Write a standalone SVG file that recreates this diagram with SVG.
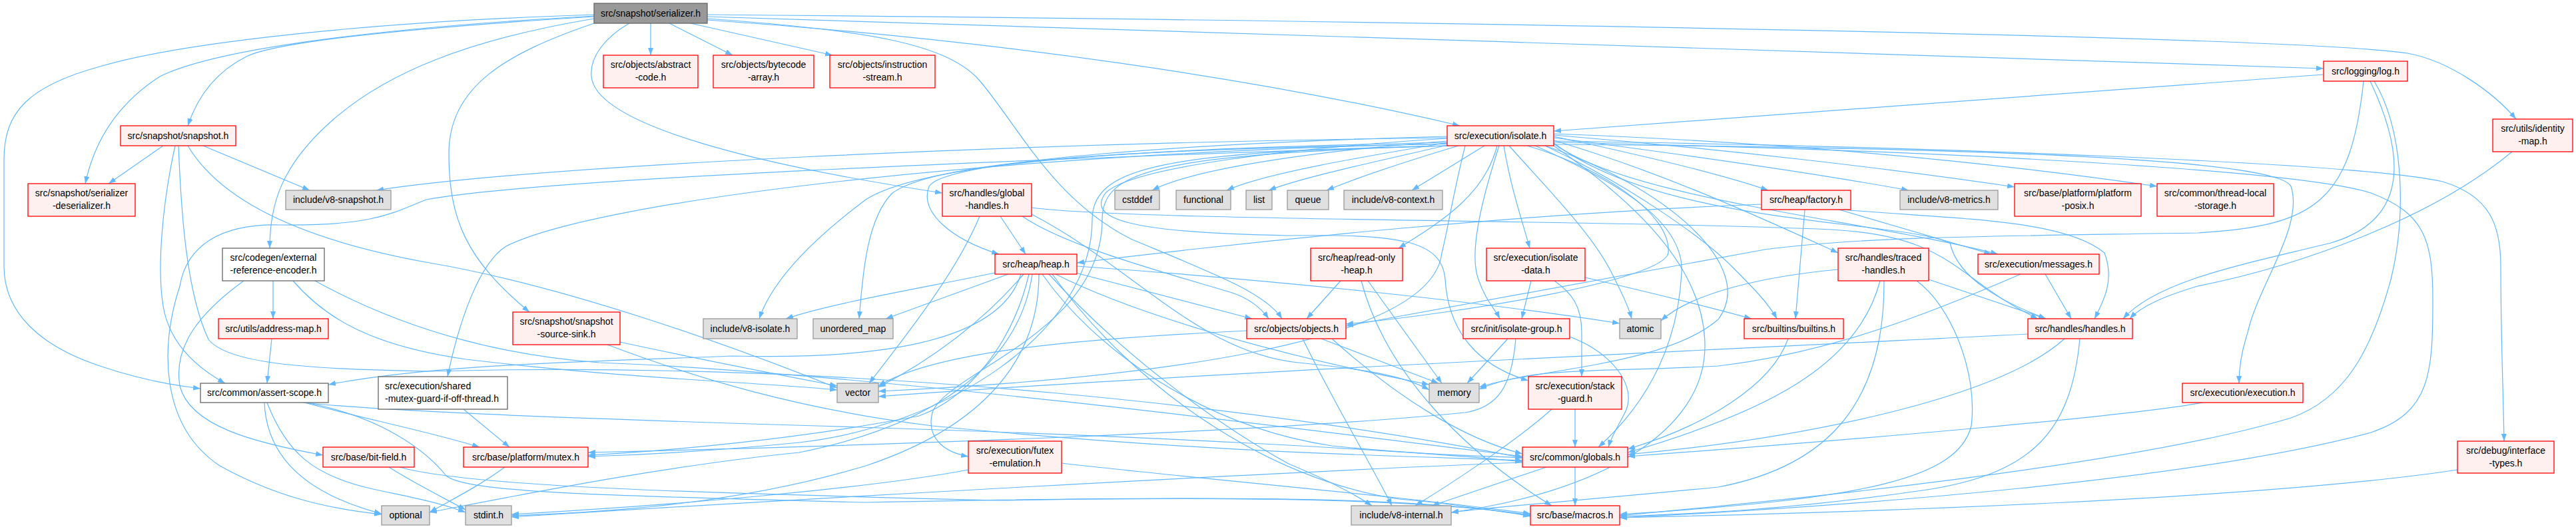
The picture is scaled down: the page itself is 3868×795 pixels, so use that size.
<svg xmlns="http://www.w3.org/2000/svg" width="3868" height="795" viewBox="0 0 3868 795">
<style>
#edges path{fill:none;stroke:#63b8ff;stroke-width:1.2;marker-end:url(#a)}
.r rect{fill:#fff0f0;stroke:#ff0000;stroke-width:1.3}
.g rect{fill:#e0e0e0;stroke:#999999;stroke-width:1.3}
.w rect{fill:#ffffff;stroke:#666666;stroke-width:1.3}
.root rect{fill:#999999;stroke:#666666;stroke-width:1.3}
text{font-family:"Liberation Sans",Arial,Helvetica,sans-serif;font-size:14px;fill:#000;text-anchor:middle}
text.l{text-anchor:start}
</style>
<defs>
<marker id="a" markerUnits="userSpaceOnUse" markerWidth="12" markerHeight="9" refX="11" refY="4" orient="auto"><path d="M0,0 L11,4 L0,8 z" fill="#63b8ff"/></marker>
</defs>
<rect width="3868" height="795" fill="#ffffff"/>
<g id="edges">
<path d="M977,35 L977,83"/>
<path d="M1005,35 L1100,83"/>
<path d="M1037,35 L1250,83"/>
<path d="M1062,25 C1600,40 3000,88 3489,103"/>
<path d="M1062,22 C2200,32 3450,55 3615,80 C3680,92 3745,140 3778,179"/>
<path d="M1062,30 C1500,60 1900,120 2192,189"/>
<path d="M1062,28 C1300,45 1420,65 1470,120 C1530,190 1580,300 1700,360 C1820,410 1900,440 1925,479"/>
<path d="M945,35 C910,55 885,85 888,115 C895,190 1150,250 1415,290"/>
<path d="M892,35 C760,80 674,130 674,230 C674,330 700,390 795,469"/>
<path d="M892,28 C700,60 580,110 500,180 C420,250 405,310 405,373"/>
<path d="M892,25 C650,40 420,60 370,85 C320,110 295,150 282,189"/>
<path d="M892,24 C600,40 330,70 240,115 C170,160 140,220 128,276"/>
<path d="M892,22 C500,35 250,70 150,100 C40,130 6,170 6,240 L6,400 C6,470 60,520 150,550 C200,567 250,578 301,584"/>
<path d="M3489,112 L2333,197"/>
<path d="M3549,122 C3530,300 3480,340 3300,350 C3000,355 2800,355 2650,375 C2400,420 2150,465 2021,490"/>
<path d="M3559,122 C3610,230 3620,330 3500,365 C3380,395 3240,420 3188,479"/>
<path d="M3565,122 C3612,200 3612,330 3590,420 C3560,530 3520,600 3440,628 C3200,700 2700,750 2432,775"/>
<path d="M245,219 L163,276"/>
<path d="M305,219 L465,286"/>
<path d="M263,219 C245,300 235,400 245,460 C255,520 300,555 338,576"/>
<path d="M282,219 C330,300 450,360 645,395 C850,430 1100,520 1257,583"/>
<path d="M268,219 C272,320 280,440 313,510 C340,545 450,555 645,558 C1300,540 1950,620 2286,688"/>
<path d="M2173,207 C1500,215 800,250 565,286"/>
<path d="M2173,212 C2000,225 1800,250 1730,286"/>
<path d="M2175,214 C2050,235 1900,260 1842,286"/>
<path d="M2178,217 C2080,240 1960,265 1905,286"/>
<path d="M2190,219 C2120,240 2050,262 1992,286"/>
<path d="M2229,219 L2120,286"/>
<path d="M2248,219 C2230,290 2170,330 2100,373"/>
<path d="M2258,219 C2268,280 2285,330 2297,373"/>
<path d="M2251,219 C2225,300 2205,380 2220,420 C2230,450 2245,465 2252,479"/>
<path d="M2266,219 C2320,280 2390,350 2420,410 C2435,440 2445,460 2450,479"/>
<path d="M2173,208 C1950,222 1700,250 1660,290 C1630,330 1700,350 1935,354 C2100,352 2165,360 2170,420 C2175,500 2220,550 2295,572"/>
<path d="M2333,205 C2450,230 2580,260 2655,286"/>
<path d="M2333,207 C2550,235 2750,265 2866,286"/>
<path d="M2333,203 C2600,225 2850,255 3025,281"/>
<path d="M2333,201 C2700,215 3000,245 3239,280"/>
<path d="M2333,211 C2500,260 2650,330 2760,380"/>
<path d="M2333,216 C2450,300 2800,330 3000,382"/>
<path d="M2173,205 C1800,215 1420,240 1395,280 C1380,320 1430,360 1500,382"/>
<path d="M2173,214 C1800,222 1400,235 1300,300 C1220,360 1160,420 1140,479"/>
<path d="M2175,216 C1800,224 1420,232 1340,290 C1300,330 1295,420 1290,479"/>
<path d="M2293,219 C2400,250 2510,320 2505,380 C2500,420 2200,470 2021,487"/>
<path d="M2320,219 C2450,280 2560,360 2600,400 C2630,430 2655,455 2668,479"/>
<path d="M2333,215 C2500,340 2850,330 2928,365 C2940,420 3010,455 3072,479"/>
<path d="M2173,216 C1500,230 900,300 760,370 C720,395 690,480 672,566"/>
<path d="M2200,219 C2180,300 2175,340 2165,380 C2150,520 1700,570 1319,588"/>
<path d="M2320,219 C2500,280 2640,400 2580,480 C2500,550 2300,555 2221,582"/>
<path d="M2333,217 C3000,222 3420,240 3440,280 C3460,340 3390,430 3375,500 C3365,530 3362,555 3362,576"/>
<path d="M2173,219 C1750,228 1640,250 1640,330 C1640,500 1420,640 1200,665 C1050,680 950,684 883,686"/>
<path d="M2176,219 C1730,232 1655,258 1655,330 C1655,500 1420,560 1400,620 C1390,660 1420,680 1454,686"/>
<path d="M2305,219 C2420,270 2530,330 2525,410 C2520,510 2480,600 2400,672"/>
<path d="M2333,212 C2900,220 3550,245 3668,273 C3740,295 3755,340 3755,400 C3755,500 3759,600 3760,663"/>
<path d="M2173,219 C1500,240 800,270 640,300 C590,320 560,340 420,338 C330,336 280,370 270,430 C240,520 240,640 330,700 C420,750 500,765 573,773"/>
<path d="M2333,219 C2450,300 2560,400 2560,520 C2560,650 2400,740 2179,770"/>
<path d="M2333,214 C2900,225 3450,255 3560,290 C3640,320 3653,360 3653,450 C3653,560 3650,620 3560,650 C3300,720 2800,760 2432,778"/>
<path d="M1494,410 C1400,430 1250,455 1180,479"/>
<path d="M1514,412 L1330,479"/>
<path d="M1533,412 C1500,520 1300,540 1100,535 C850,545 650,548 493,578"/>
<path d="M1537,412 C1480,480 1400,540 1319,582"/>
<path d="M1545,412 C1520,520 1450,600 1380,625 C1200,660 1000,678 883,684"/>
<path d="M1550,412 C1530,550 1400,640 1200,680 C1000,700 800,740 645,770"/>
<path d="M1560,412 C1560,560 1450,650 1300,700 C1100,760 900,770 768,775"/>
<path d="M1615,410 L1880,479"/>
<path d="M1617,400 C1900,420 2200,450 2432,486"/>
<path d="M1585,412 C1700,470 1900,530 2146,578"/>
<path d="M1565,412 C1640,520 1800,640 2000,670 C2150,685 2230,685 2286,688"/>
<path d="M1575,412 C1700,550 1850,650 1935,697 C1990,720 2030,740 2060,760"/>
<path d="M1580,412 C1700,580 1900,720 2100,750 C2200,758 2250,770 2298,774"/>
<path d="M1502,325 L1540,382"/>
<path d="M1471,325 C1440,400 1380,480 1305,576"/>
<path d="M1535,325 C1600,370 1750,410 1850,440 C1880,450 1895,465 1905,479"/>
<path d="M1549,312 C1700,332 2400,330 2750,345 C2935,355 2935,420 3060,479"/>
<path d="M1549,322 C1700,400 1800,530 1950,545 C2050,555 2110,565 2146,586"/>
<path d="M410,422 L410,479"/>
<path d="M366,422 C300,470 260,520 270,580 C285,640 380,665 485,684"/>
<path d="M440,422 C490,480 560,520 700,540 C950,570 1150,575 1257,586"/>
<path d="M473,422 C560,470 700,530 900,545 C1300,560 2000,650 2286,686"/>
<path d="M408,509 L401,576"/>
<path d="M931,514 C1050,540 1180,565 1257,580"/>
<path d="M912,518 C1050,570 1200,615 1400,640 C1800,680 2100,685 2286,692"/>
<path d="M397,605 C400,680 450,740 573,772"/>
<path d="M401,605 C430,680 470,715 560,735 C620,748 660,755 699,770"/>
<path d="M457,605 C550,630 650,650 720,672"/>
<path d="M455,605 C600,620 900,630 1290,642 C1700,655 2100,675 2286,694"/>
<path d="M460,605 C590,630 650,690 670,715 C700,740 900,745 1300,755 C1800,745 2150,745 2298,776"/>
<path d="M696,615 L765,672"/>
<path d="M584,702 C620,725 660,745 699,766"/>
<path d="M600,702 C700,730 1000,740 1500,752 C1900,745 2150,752 2298,774"/>
<path d="M758,702 C720,730 680,750 645,770"/>
<path d="M1454,706 C1300,735 1000,760 768,773"/>
<path d="M1594,696 C1800,720 2100,745 2298,772"/>
<path d="M2365,702 L2365,760"/>
<path d="M2322,702 L2150,760"/>
<path d="M2286,695 C1900,710 1200,750 768,777"/>
<path d="M2365,615 L2365,672"/>
<path d="M2330,615 C2280,660 2190,720 2125,760"/>
<path d="M2264,509 L2203,576"/>
<path d="M2357,506 C2420,530 2460,580 2440,620 C2430,640 2420,655 2415,672"/>
<path d="M2276,509 C2270,580 2250,612 2200,620 C1900,650 1300,670 883,680"/>
<path d="M2299,422 L2285,479"/>
<path d="M2334,422 C2360,440 2375,460 2375,500 L2375,566"/>
<path d="M2380,417 C2480,440 2560,460 2630,479"/>
<path d="M2013,422 L1962,479"/>
<path d="M2054,422 L2165,576"/>
<path d="M2044,422 C2080,560 2200,680 2330,760"/>
<path d="M1956,509 C2000,600 2060,700 2090,760"/>
<path d="M1984,509 L2160,576"/>
<path d="M1872,497 C1600,510 1400,530 1319,580"/>
<path d="M2000,509 C2100,600 2200,660 2286,682"/>
<path d="M2685,509 C2660,580 2560,640 2444,675"/>
<path d="M3045,502 C2500,530 1800,560 1319,596"/>
<path d="M3100,509 C3000,600 2700,660 2444,683"/>
<path d="M3123,509 C3110,650 3050,710 2900,735 C2700,765 2550,772 2432,776"/>
<path d="M2896,420 L3072,479"/>
<path d="M2760,405 C2650,415 2540,440 2494,482"/>
<path d="M2823,422 C2790,550 2650,620 2444,680"/>
<path d="M2829,422 C2830,600 2750,700 2580,732 C2400,750 2260,760 2179,770"/>
<path d="M2878,422 C2930,460 2970,560 2960,640 C2940,720 2800,750 2432,773"/>
<path d="M3071,412 L3110,479"/>
<path d="M3034,412 C2900,470 2750,530 2580,550 C2400,560 2300,550 2221,585"/>
<path d="M2645,307 C2300,320 1900,360 1617,395"/>
<path d="M2761,315 L2990,382"/>
<path d="M2710,315 L2696,479"/>
<path d="M2765,315 C2950,330 3100,330 3160,380 C3175,420 3160,450 3145,479"/>
<path d="M3772,228 C3650,330 3450,400 3300,430 C3250,445 3215,460 3198,479"/>
<path d="M3690,706 C3400,750 2800,770 2432,778"/>
<path d="M3307,605 C3200,625 2800,660 2444,686"/>
</g>
<g id="n0" class="root"><rect x="892" y="5" width="170" height="30"/><text x="977" y="25">src/snapshot/serializer.h</text></g>
<g id="n1" class="r"><rect x="906" y="83" width="142" height="49"/><text x="977" y="102">src/objects/abstract</text><text x="977" y="121">-code.h</text></g>
<g id="n2" class="r"><rect x="1071" y="83" width="151" height="49"/><text x="1146.5" y="102">src/objects/bytecode</text><text x="1146.5" y="121">-array.h</text></g>
<g id="n3" class="r"><rect x="1246" y="83" width="158" height="49"/><text x="1325" y="102">src/objects/instruction</text><text x="1325" y="121">-stream.h</text></g>
<g id="n4" class="r"><rect x="3489" y="92" width="126" height="30"/><text x="3552" y="112">src/logging/log.h</text></g>
<g id="n5" class="r"><rect x="181" y="189" width="173" height="30"/><text x="267.5" y="209">src/snapshot/snapshot.h</text></g>
<g id="n6" class="r"><rect x="2173" y="189" width="160" height="30"/><text x="2253" y="209">src/execution/isolate.h</text></g>
<g id="n7" class="r"><rect x="3743" y="179" width="120" height="49"/><text x="3803" y="198">src/utils/identity</text><text x="3803" y="217">-map.h</text></g>
<g id="n8" class="r"><rect x="42" y="276" width="161" height="49"/><text x="122.5" y="295">src/snapshot/serializer</text><text x="122.5" y="314">-deserializer.h</text></g>
<g id="n9" class="g"><rect x="429" y="286" width="158" height="29"/><text x="508" y="305">include/v8-snapshot.h</text></g>
<g id="n10" class="r"><rect x="1415" y="276" width="134" height="49"/><text x="1482" y="295">src/handles/global</text><text x="1482" y="314">-handles.h</text></g>
<g id="n11" class="g"><rect x="1674" y="286" width="67" height="29"/><text x="1707.5" y="305">cstddef</text></g>
<g id="n12" class="g"><rect x="1766" y="286" width="82" height="29"/><text x="1807" y="305">functional</text></g>
<g id="n13" class="g"><rect x="1871" y="286" width="39" height="29"/><text x="1890.5" y="305">list</text></g>
<g id="n14" class="g"><rect x="1933" y="286" width="62" height="29"/><text x="1964" y="305">queue</text></g>
<g id="n15" class="g"><rect x="2018" y="286" width="148" height="29"/><text x="2092" y="305">include/v8-context.h</text></g>
<g id="n16" class="r"><rect x="2645" y="286" width="134" height="29"/><text x="2712" y="305">src/heap/factory.h</text></g>
<g id="n17" class="g"><rect x="2853" y="286" width="147" height="29"/><text x="2926.5" y="305">include/v8-metrics.h</text></g>
<g id="n18" class="r"><rect x="3025" y="276" width="190" height="49"/><text x="3120" y="295">src/base/platform/platform</text><text x="3120" y="314">-posix.h</text></g>
<g id="n19" class="r"><rect x="3239" y="276" width="175" height="49"/><text x="3326.5" y="295">src/common/thread-local</text><text x="3326.5" y="314">-storage.h</text></g>
<g id="n20" class="w"><rect x="334" y="373" width="153" height="49"/><text x="410.5" y="392">src/codegen/external</text><text x="410.5" y="411">-reference-encoder.h</text></g>
<g id="n21" class="r"><rect x="1968" y="373" width="138" height="49"/><text x="2037" y="392">src/heap/read-only</text><text x="2037" y="411">-heap.h</text></g>
<g id="n22" class="r"><rect x="2232" y="373" width="148" height="49"/><text x="2306" y="392">src/execution/isolate</text><text x="2306" y="411">-data.h</text></g>
<g id="n23" class="r"><rect x="2760" y="373" width="136" height="49"/><text x="2828" y="392">src/handles/traced</text><text x="2828" y="411">-handles.h</text></g>
<g id="n24" class="r"><rect x="2970" y="382" width="182" height="30"/><text x="3061" y="402">src/execution/messages.h</text></g>
<g id="n25" class="r"><rect x="1494" y="382" width="123" height="30"/><text x="1555.5" y="402">src/heap/heap.h</text></g>
<g id="n26" class="r"><rect x="328" y="479" width="165" height="30"/><text x="410.5" y="499">src/utils/address-map.h</text></g>
<g id="n27" class="r"><rect x="770" y="469" width="161" height="49"/><text x="850.5" y="488">src/snapshot/snapshot</text><text x="850.5" y="507">-source-sink.h</text></g>
<g id="n28" class="g"><rect x="1056" y="479" width="141" height="30"/><text x="1126.5" y="499">include/v8-isolate.h</text></g>
<g id="n29" class="g"><rect x="1221" y="479" width="120" height="30"/><text x="1281" y="499">unordered_map</text></g>
<g id="n30" class="r"><rect x="1872" y="479" width="149" height="30"/><text x="1946.5" y="499">src/objects/objects.h</text></g>
<g id="n31" class="r"><rect x="2197" y="479" width="160" height="30"/><text x="2277" y="499">src/init/isolate-group.h</text></g>
<g id="n32" class="g"><rect x="2432" y="479" width="62" height="30"/><text x="2463" y="499">atomic</text></g>
<g id="n33" class="r"><rect x="2619" y="479" width="149" height="30"/><text x="2693.5" y="499">src/builtins/builtins.h</text></g>
<g id="n34" class="r"><rect x="3045" y="479" width="157" height="30"/><text x="3123.5" y="499">src/handles/handles.h</text></g>
<g id="n35" class="w"><rect x="301" y="576" width="192" height="29"/><text x="397" y="595">src/common/assert-scope.h</text></g>
<g id="n36" class="w"><rect x="568" y="566" width="194" height="49"/><text class="l" x="578" y="585">src/execution/shared</text><text class="l" x="578" y="604">-mutex-guard-if-off-thread.h</text></g>
<g id="n37" class="g"><rect x="1257" y="576" width="62" height="29"/><text x="1288" y="595">vector</text></g>
<g id="n38" class="g"><rect x="2146" y="576" width="75" height="29"/><text x="2183.5" y="595">memory</text></g>
<g id="n39" class="r"><rect x="2295" y="566" width="140" height="49"/><text x="2365" y="585">src/execution/stack</text><text x="2365" y="604">-guard.h</text></g>
<g id="n40" class="r"><rect x="3277" y="576" width="181" height="29"/><text x="3367.5" y="595">src/execution/execution.h</text></g>
<g id="n41" class="r"><rect x="485" y="672" width="137" height="30"/><text x="553.5" y="692">src/base/bit-field.h</text></g>
<g id="n42" class="r"><rect x="696" y="672" width="187" height="30"/><text x="789.5" y="692">src/base/platform/mutex.h</text></g>
<g id="n43" class="r"><rect x="1454" y="663" width="140" height="48"/><text x="1524" y="682">src/execution/futex</text><text x="1524" y="701">-emulation.h</text></g>
<g id="n44" class="r"><rect x="2286" y="672" width="158" height="30"/><text x="2365" y="692">src/common/globals.h</text></g>
<g id="n45" class="r"><rect x="3690" y="663" width="145" height="48"/><text x="3762.5" y="682">src/debug/interface</text><text x="3762.5" y="701">-types.h</text></g>
<g id="n46" class="g"><rect x="573" y="760" width="72" height="29"/><text x="609" y="779">optional</text></g>
<g id="n47" class="g"><rect x="699" y="760" width="69" height="29"/><text x="733.5" y="779">stdint.h</text></g>
<g id="n48" class="g"><rect x="2029" y="760" width="150" height="29"/><text x="2104" y="779">include/v8-internal.h</text></g>
<g id="n49" class="r"><rect x="2298" y="760" width="134" height="29"/><text x="2365" y="779">src/base/macros.h</text></g>
</svg>
